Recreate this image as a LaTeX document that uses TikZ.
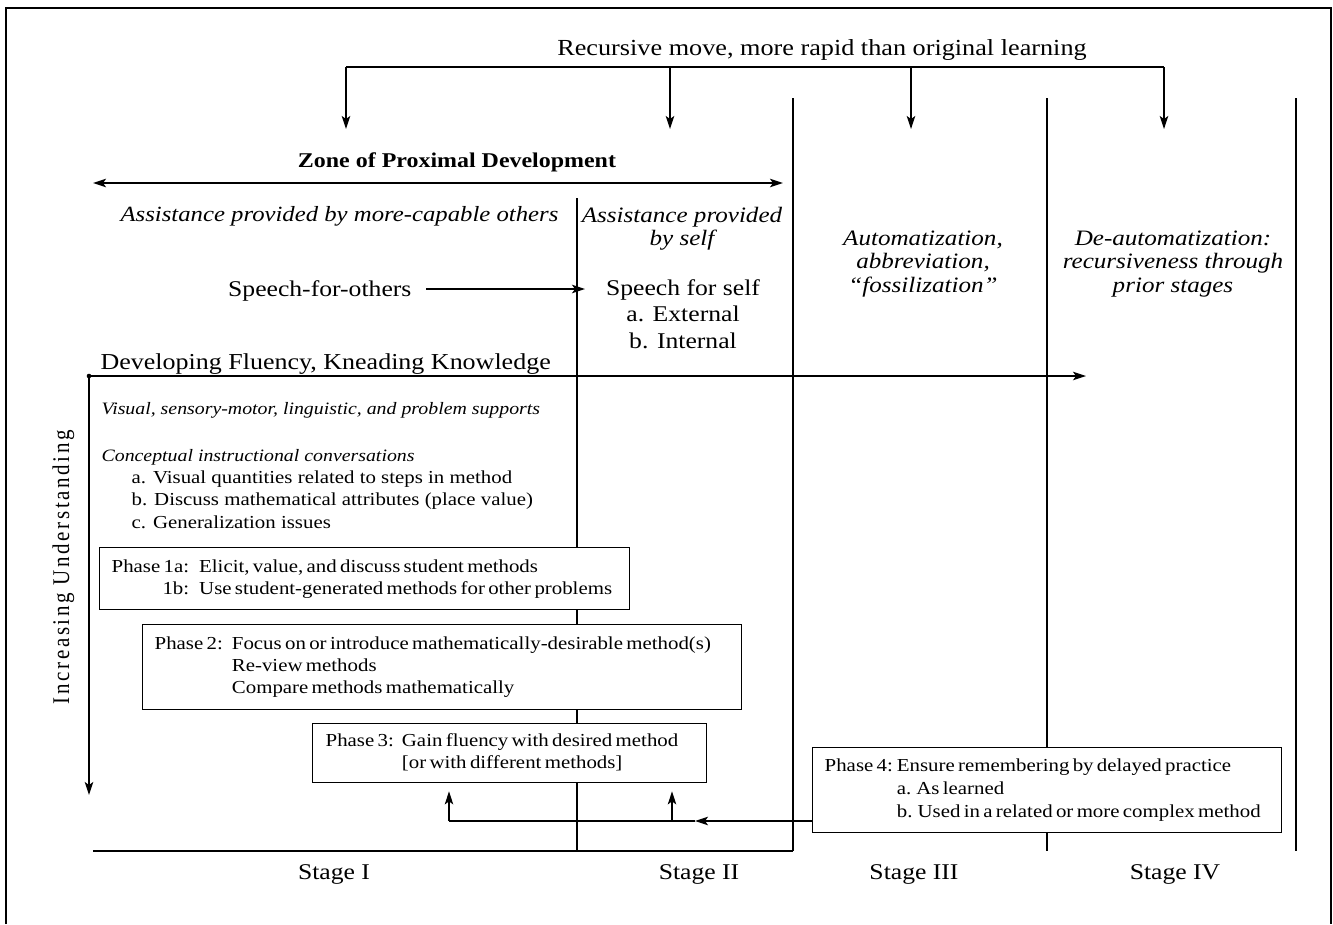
\documentclass[tikz,border=0pt]{standalone}
\usepackage{fontspec}
\setmainfont[FakeStretch=1.14]{Liberation Serif}
\newfontfamily\rotfont[LetterSpace=12.5]{Liberation Serif}
\usetikzlibrary{arrows.meta}
\newcommand\fs[2]{\fontsize{#1}{#2}\selectfont}
\begin{document}
\begin{tikzpicture}[x=1pt,y=-1pt,line width=1.2pt,
  every node/.style={inner sep=0pt},
  arr/.style={-{Stealth[length=13pt,width=8.5pt,inset=3pt]}},
  darr/.style={{Stealth[length=13pt,width=8.5pt,inset=3pt]}-{Stealth[length=13pt,width=8.5pt,inset=3pt]}},
  box/.style={draw,line width=1.4pt,rectangle,fill=white,anchor=north west,inner xsep=12pt,inner ysep=0pt,align=left},
  big/.style={font=\fs{22.5}{27}},
  ital/.style={font=\fs{22}{23.5}\itshape}]
\useasboundingbox (0,0) rectangle (1333,924);
\draw[line width=1.5pt] (6,924) -- (6,8) -- (1331,8) -- (1331,924);

% title and recursive bracket
\node[font=\fs{23}{27},anchor=base] (title) at (822,55) {Recursive move, more rapid than original learning};
\coordinate (r1) at (346,67); \coordinate (r2) at (670,67);
\coordinate (r3) at (911,67); \coordinate (r4) at (1164,67);
\coordinate (d1) at (346,129); \coordinate (d2) at (670,129);
\coordinate (d3) at (911,129); \coordinate (d4) at (1164,129);
\draw (r1) -- (r4);
\foreach \i in {1,...,4} \draw[arr] (r\i) -- (d\i);

% stage lines
\coordinate (s1t) at (577,198); \coordinate (s1b) at (577,851);
\coordinate (s2t) at (793,98);  \coordinate (s2b) at (793,851);
\coordinate (s3t) at (1047,98); \coordinate (s3b) at (1047,851);
\coordinate (s4t) at (1296,98); \coordinate (s4b) at (1296,851);
\coordinate (bl) at (93,851);
\draw (s1t) -- (s1b);
\draw (s2t) -- (s2b);
\draw (s3t) -- (s3b);
\draw (s4t) -- (s4b);
\draw (bl) -- (s2b);

% zone of proximal development
\node[font=\fs{21}{25}\bfseries,anchor=base] (zpd) at (457,167) {Zone of Proximal Development};
\coordinate (z0) at (93,183); \coordinate (z1) at (783,183);
\draw[darr,line width=1.8pt] (z0) -- (z1);

% stage headers
\node[font=\fs{21.7}{23}\itshape,anchor=base east] (aoth) at (559,221) {Assistance provided by more-capable others};
\node[ital,anchor=base] (aself) at (682,222) {\begin{tabular}[t]{@{}c@{}}Assistance provided\\by self\end{tabular}};
\node[ital,anchor=base] (auto) at (923,245) {\begin{tabular}[t]{@{}c@{}}Automatization,\\abbreviation,\\``fossilization''\end{tabular}};
\node[ital,anchor=base] (deauto) at (1173,245) {\begin{tabular}[t]{@{}c@{}}De-automatization:\\recursiveness through\\prior stages\end{tabular}};

% speech
\node[big,anchor=base east] (sfo) at (412,296) {Speech-for-others};
\node[font=\fs{22.5}{26.8},anchor=base] (sfs) at (683,295) {\begin{tabular}[t]{@{}c@{}}Speech for self\\a. External\\b. Internal\end{tabular}};
\coordinate (sa) at (585,289);
\draw[arr,shorten <=14pt] (sfo.east |- sa) -- (sa);

% fluency
\node[font=\fs{22.8}{26},anchor=base west] (flu) at (100,369) {Developing Fluency, Kneading Knowledge};
\coordinate (f0) at (89,376); \coordinate (f1) at (1086,376); \coordinate (u1) at (89,795);
\draw[arr] (f0) -- (f1);
\draw[arr] (f0) -- (u1);
\fill (f0) circle (2.3pt);
\node[font=\fs{21}{24}\rotfont,rotate=90,anchor=base] (iu) at (69,567) {\scalebox{1}[1.14]{Increasing Understanding}};

% supports and conversations
\node[font=\fs{17.4}{22}\itshape,anchor=base west] (vis) at (101,414) {Visual, sensory-motor, linguistic, and problem supports};
\node[font=\fs{18.3}{22.4},anchor=base west] (conv) at (101,461) {\begin{tabular}[t]{@{}l@{}}{\fontsize{17.4}{22.4}\selectfont\itshape Conceptual instructional conversations}\\
\hspace{30pt}a. Visual quantities related to steps in method\\
\hspace{30pt}b. Discuss mathematical attributes (place value)\\
\hspace{30pt}c. Generalization issues\end{tabular}};

% phase boxes
\node[box,minimum height=62pt,text width=506pt] (p1) at (99,547) {\fs{18.3}{22}\begin{tabular}{@{}r@{\hspace{10pt}}l@{}}Phase 1a: & Elicit, value, and discuss student methods\\ 1b: & Use student-generated methods for other problems\end{tabular}};
\node[box,minimum height=85pt,text width=575pt] (p2) at (142,624) {\fs{18.3}{22}\begin{tabular}{@{}l@{\hspace{9pt}}l@{}}Phase 2: & Focus on or introduce mathematically-desirable method(s)\\ & Re-view methods\\ & Compare methods mathematically\end{tabular}};
\node[box,minimum height=59pt,inner xsep=13pt,text width=368pt] (p3) at (312,723) {\fs{18.3}{22}\begin{tabular}{@{}l@{\hspace{8pt}}l@{}}Phase 3: & Gain fluency with desired method\\ & [or with different methods]\end{tabular}};
\node[box,minimum height=85pt,text width=445pt] (p4) at (812,747) {\fs{18.3}{23}\begin{tabular}{@{}l@{\hspace{4pt}}l@{}}Phase 4: & Ensure remembering by delayed practice\\ & a. As learned\\ & b. Used in a related or more complex method\end{tabular}};

% return path
\coordinate (q1) at (695,821); \coordinate (q2) at (449,821); \coordinate (q4) at (672,821);
\draw[arr] (p4.west |- q2) -- (q1);
\draw (q1) -- (q2);
\draw[arr,shorten >=8pt] (q2) -- (q2 |- p3.south);
\draw[arr,shorten >=8pt] (q4) -- (q4 |- p3.south);

% stage labels
\node[big,anchor=base] (st1) at (334,879) {Stage I};
\node[big,anchor=base] (st2) at (699,879) {Stage II};
\node[big,anchor=base] (st3) at (914,879) {Stage III};
\node[big,anchor=base] (st4) at (1175,879) {Stage IV};
\end{tikzpicture}
\end{document}
